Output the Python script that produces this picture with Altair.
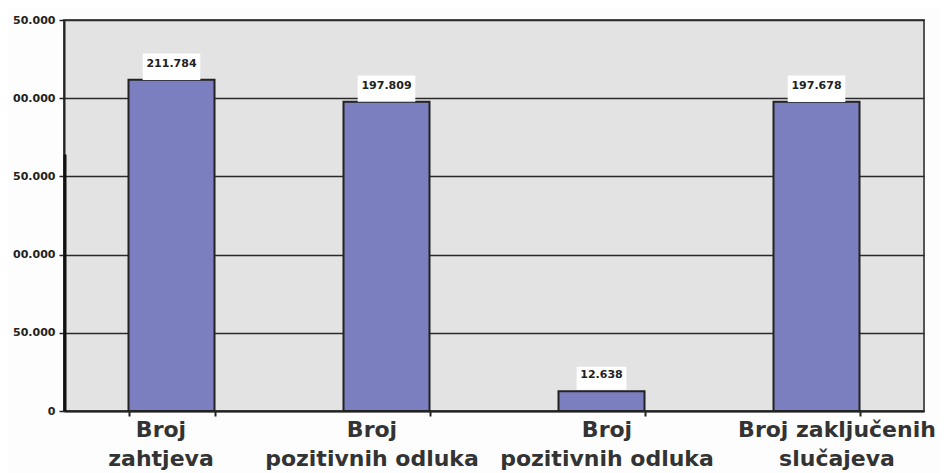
import json
import altair as alt
import pandas as pd

categories = ["Broj zahtjeva", "Broj pozitivnih odluka", "Broj pozitivnih odluka", "Broj zaključenih slučajeva"]
label_lines = [["Broj", "zahtjeva"], ["Broj", "pozitivnih odluka"], ["Broj", "pozitivnih odluka"], ["Broj zaključenih", "slučajeva"]]
values = [211784, 197809, 12638, 197678]
value_labels = ["211.784", "197.809", "12.638", "197.678"]
y_ticks = [0, 50000, 100000, 150000, 200000, 250000]
y_tick_labels = ["0", "50.000", "00.000", "50.000", "00.000", "50.000"]
axis_mark_top = 164000

df = pd.DataFrame({
    "idx": list(range(len(categories))),
    "category": categories,
    "value": values,
    "label": value_labels,
})

x_label_expr = json.dumps(label_lines, ensure_ascii=False).replace('"', "'") + "[datum.value]"
y_label_expr = (json.dumps(y_tick_labels).replace('"', "'") + "[indexof(" + json.dumps(y_ticks) + ", datum.value)]")
# Excel wrapped labels sit slightly off their band centres in the reference
label_nudge = "[-11, -15, 5, 20][datum.value]"

x_enc = alt.X(
    "idx:O",
    scale=alt.Scale(paddingInner=0.6, paddingOuter=0.3),
    axis=alt.Axis(
        title=None,
        labelExpr=x_label_expr,
        labelAngle=0,
        labelFont="DejaVu Sans",
        labelFontWeight="bold",
        labelFontSize=22,
        labelLineHeight=29,
        labelColor="#333333",
        labelPadding=3,
        labelBaseline="top",
        labelLimit=0,
        labelOverlap=False,
        labelOffset=alt.ExprRef(expr=label_nudge),
        tickBand="extent",
        tickSize=5,
        tickColor="#222222",
        tickWidth=2,
        domainColor="#222222",
        domainWidth=2,
        grid=False,
    ),
)

y_scale = alt.Scale(domain=[0, 250000], nice=False)
y_enc = alt.Y(
    "value:Q",
    scale=y_scale,
    axis=alt.Axis(
        title=None,
        values=y_ticks,
        labelExpr=y_label_expr,
        labelFont="DejaVu Sans",
        labelFontWeight="bold",
        labelFontSize=11,
        labelColor="#222222",
        labelPadding=4,
        tickSize=5,
        tickColor="#222222",
        tickWidth=1.5,
        domainColor="#222222",
        domainWidth=2,
        grid=True,
        gridColor="#2a2a2a",
        gridWidth=1.5,
    ),
)

base = alt.Chart(df)

bars = base.mark_bar(color="#7b7fbf", stroke="#222222", strokeWidth=2).encode(x=x_enc, y=y_enc)

boxes = base.transform_calculate(
    boxsize="pow(length(datum.label) * 7.8 + 3, 2)"
).mark_point(
    shape="M-1,-0.46L1,-0.46L1,0.46L-1,0.46Z",
    filled=True,
    color="white",
    opacity=1,
    yOffset=-13,
).encode(
    x=alt.X("idx:O"),
    y=alt.Y("value:Q"),
    size=alt.Size("boxsize:Q", scale=None, legend=None),
)

texts = base.mark_text(
    font="DejaVu Sans",
    fontWeight="bold",
    fontSize=11,
    color="#222222",
    dy=-16,
    baseline="middle",
).encode(x=alt.X("idx:O"), y=alt.Y("value:Q"), text="label:N")

axis_mark = alt.Chart(pd.DataFrame({"top": [axis_mark_top], "bottom": [0]})).mark_rule(
    color="#111111", strokeWidth=3
).encode(x=alt.value(1), y=alt.Y("top:Q"), y2="bottom:Q")

chart = alt.layer(bars, boxes, texts, axis_mark).properties(
    width=860,
    height=391,
    autosize=alt.AutoSizeParams(type="none"),
    padding={"left": 56, "top": 12, "right": 15, "bottom": 62},
    background="#fdfdfd",
).configure_view(fill="#e3e3e3", stroke="#555555", strokeWidth=2)

chart.save("out.html", embed_options={"renderer": "svg", "actions": False})
